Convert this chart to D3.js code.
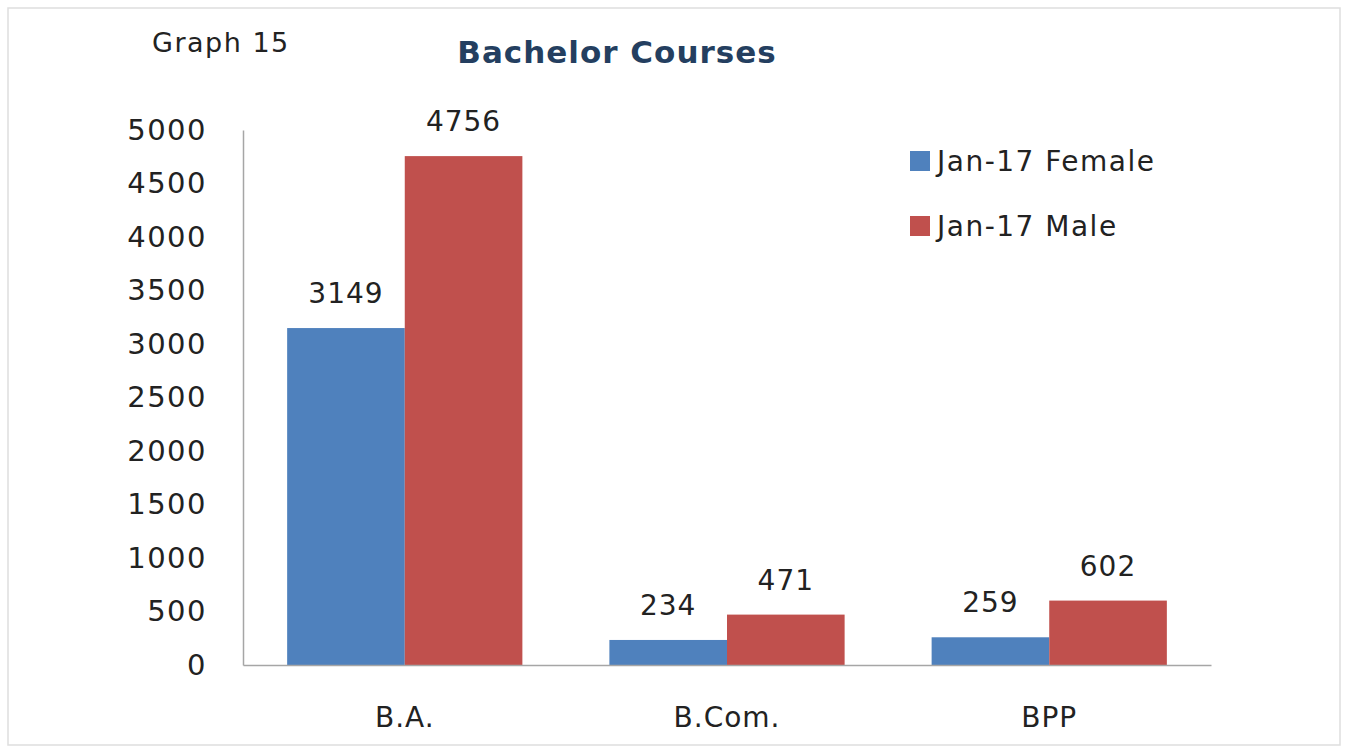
<!DOCTYPE html>
<html>
<head>
<meta charset="utf-8">
<script src="https://cdn.jsdelivr.net/npm/d3@7"></script>
<style>
  body { margin: 0; background: #fff; }
  svg { display: block; }
</style>
</head>
<body>
<svg width="1348" height="754"></svg>
<script>
var categories = ['B.A.', 'B.Com.', 'BPP'];
var seriesNames = ['Jan-17 Female', 'Jan-17 Male'];
var female = [3149, 234, 259];
var male = [4756, 471, 602];
var yTicks = [0, 500, 1000, 1500, 2000, 2500, 3000, 3500, 4000, 4500, 5000];
var colors = ['#4F81BD', '#C0504D'];

var svg = d3.select('svg');
var font = '"DejaVu Sans", Verdana, sans-serif';

// outer frame
svg.append('rect')
    .attr('x', 8).attr('y', 8)
    .attr('width', 1332).attr('height', 737)
    .attr('fill', '#fff')
    .attr('stroke', '#dedede')
    .attr('stroke-width', 1.5);

var plotLeft = 243, plotRight = 1211, plotTop = 130, plotBottom = 665;

var x = d3.scaleBand()
    .domain(categories)
    .range([plotLeft, plotRight])
    .paddingInner(0.27)
    .paddingOuter(0.137);

var x1 = d3.scaleBand()
    .domain(seriesNames)
    .range([0, x.bandwidth()]);

var y = d3.scaleLinear()
    .domain([0, 5000])
    .range([plotBottom, plotTop]);

var rows = categories.map(function(c, i) {
    return { cat: c, values: [female[i], male[i]] };
});

// bars
var groups = svg.append('g').selectAll('g')
    .data(rows)
    .enter().append('g')
    .attr('transform', function(d) { return 'translate(' + x(d.cat) + ',0)'; });

groups.selectAll('rect')
    .data(function(d) { return d.values.map(function(v, j) { return { s: seriesNames[j], v: v, j: j }; }); })
    .enter().append('rect')
    .attr('x', function(d) { return x1(d.s); })
    .attr('y', function(d) { return y(d.v); })
    .attr('width', x1.bandwidth())
    .attr('height', function(d) { return plotBottom - y(d.v); })
    .attr('fill', function(d) { return colors[d.j]; });

groups.selectAll('text')
    .data(function(d) { return d.values.map(function(v, j) { return { s: seriesNames[j], v: v }; }); })
    .enter().append('text')
    .attr('x', function(d) { return x1(d.s) + x1.bandwidth() / 2; })
    .attr('y', function(d) { return y(d.v) - 25; })
    .attr('text-anchor', 'middle')
    .attr('font-family', font)
    .attr('font-size', 28)
    .attr('letter-spacing', 1)
    .attr('fill', '#222')
    .text(function(d) { return d.v; });

// y axis
var yAxis = svg.append('g')
    .attr('transform', 'translate(' + plotLeft + ',0)')
    .call(d3.axisLeft(y).tickValues(yTicks).tickFormat(d3.format('d')).tickSize(0).tickPadding(36));
yAxis.select('.domain').attr('stroke', '#a6a6a6').attr('stroke-width', 1.5);
yAxis.selectAll('text')
    .attr('font-family', font)
    .attr('font-size', 29)
    .attr('letter-spacing', 1.5)
    .attr('fill', '#222');

// x axis
var xAxis = svg.append('g')
    .attr('transform', 'translate(0,' + plotBottom + ')')
    .call(d3.axisBottom(x).tickSize(0).tickPadding(42));
xAxis.select('.domain').attr('stroke', '#a6a6a6').attr('stroke-width', 1.5);
xAxis.selectAll('text')
    .attr('font-family', font)
    .attr('font-size', 28)
    .attr('letter-spacing', 1)
    .attr('fill', '#222');

// titles
svg.append('text')
    .attr('x', 152).attr('y', 52)
    .attr('font-family', font)
    .attr('font-size', 27)
    .attr('letter-spacing', 1.5)
    .attr('fill', '#222')
    .text('Graph 15');

svg.append('text')
    .attr('x', 617).attr('y', 63)
    .attr('text-anchor', 'middle')
    .attr('font-family', font)
    .attr('font-weight', 'bold')
    .attr('font-size', 31)
    .attr('letter-spacing', 1)
    .attr('fill', '#243F60')
    .text('Bachelor Courses');

// legend
var legend = svg.append('g').selectAll('g')
    .data(seriesNames)
    .enter().append('g')
    .attr('transform', function(d, i) { return 'translate(910,' + (151 + i * 65) + ')'; });

legend.append('rect')
    .attr('width', 20).attr('height', 20)
    .attr('fill', function(d, i) { return colors[i]; });

legend.append('text')
    .attr('x', 27).attr('y', 20)
    .attr('font-family', font)
    .attr('font-size', 28)
    .attr('letter-spacing', 1.5)
    .attr('fill', '#222')
    .text(function(d) { return d; });
</script>
</body>
</html>
